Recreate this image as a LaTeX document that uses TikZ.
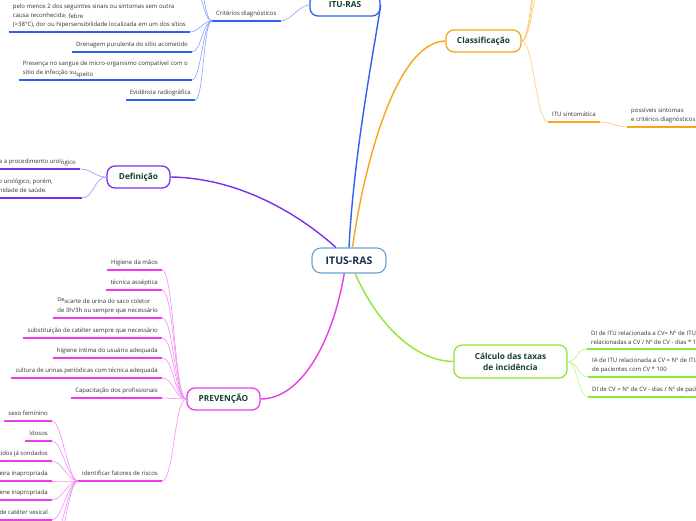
\documentclass[tikz,border=0pt]{standalone}
\usepackage{fontspec}
\setmainfont{Open Sans}
\usetikzlibrary{calc}
\definecolor{cblue}{HTML}{2F5FF5}
\definecolor{cbluel}{HTML}{86A2FF}
\definecolor{corange}{HTML}{F7A619}
\definecolor{corangel}{HTML}{FBC774}
\definecolor{cpurple}{HTML}{7B2FF0}
\definecolor{cpurplel}{HTML}{AE8CF6}
\definecolor{cmag}{HTML}{EA3CEA}
\definecolor{cmagl}{HTML}{F38CF3}
\definecolor{clime}{HTML}{8DE833}
\definecolor{climel}{HTML}{BDF287}
\definecolor{cborder}{HTML}{62A3DA}
\definecolor{nodetext}{HTML}{17402F}
\definecolor{centertext}{HTML}{1C2E4E}
\definecolor{txt}{HTML}{333333}
\begin{document}
\begin{tikzpicture}[x=1pt,y=-1pt,
  mainbox/.style={draw=#1, line width=1.3pt, rounded corners=8pt, fill=white, inner sep=0pt, align=center, text=nodetext, font=\fontsize{8.3}{11}\selectfont\bfseries},
  lbl/.style={inner xsep=4pt, inner ysep=0pt, text=txt, font=\fontsize{6}{9}\selectfont, align=left},
  uline/.style={draw=#1, line width=1.6pt},
  twig/.style={draw=#1, line width=0.6pt},
  branch/.style={draw=#1, line width=1.4pt},
  lc/.style={out=180,in=0,out distance=#1,in distance=#1},
  rc/.style={out=0,in=180,out distance=#1,in distance=#1}]
\useasboundingbox (0,0) rectangle (696,520);
\fill[white] (0,0) rectangle (696,520);

% ---------- main nodes ----------
\node[draw=cborder, line width=1.1pt, rounded corners=9pt, fill=white, minimum width=74pt, minimum height=25pt, inner sep=0pt, text=centertext, font=\fontsize{10.5}{12}\selectfont\bfseries] (itus) at (349,260.5) {ITUS-RAS};
\node[mainbox=cblue, minimum width=70pt, minimum height=22pt] (itura) at (345,5) {ITU-RAS};
\node[mainbox=corange, minimum width=75pt, minimum height=22pt] (class) at (483.5,41) {Classificação};
\node[mainbox=cpurple, minimum width=63pt, minimum height=22pt] (def) at (138.5,177) {Definição};
\node[mainbox=cmag, minimum width=73pt, minimum height=22pt] (prev) at (223.5,399) {PREVENÇÃO};
\node[mainbox=clime, minimum width=113pt, minimum height=33pt] (calcn) at (510.5,361.5) {Cálculo das taxas\\de incidência};

% ---------- main branches ----------
\draw[branch=cblue] (itus.north) .. controls (354,150) and (375,45) .. (itura.east);
\draw[branch=corange] (itus.75) .. controls (364,165) and (396,42) .. (class.west);
\draw[branch=cpurple] (itus.135) .. controls (300,215) and (240,178) .. (def.east);
\draw[branch=cmag] (itus.250) .. controls (332,345) and (300,399) .. (prev.east);
\draw[branch=clime] (itus.295) .. controls (378,325) and (415,361) .. (calcn.west);

% ---------- ITU-RAS ----------
\coordinate (y21) at (0,21);
\node[lbl, anchor=base west] (crit) at (212,15.7) {Critérios diagnósticos};
\coordinate (critL) at (crit.west |- y21);
\coordinate (critR) at (crit.east |- y21);
\draw[uline=cblue] (critL) -- (critR);
\draw[twig=cbluel] (itura.west) to[lc=10pt] (critR);

\coordinate (b1) at (190,32);
\node[lbl, anchor=south east] (tb1) at ($(b1)+(0,-3.8)$) {pelo menos 2 dos seguintes sinais ou sintomas sem outra\\causa reconhecida\raisebox{-1pt}[0pt][0pt]{: febre}\\(>38°C), dor ou hipersensibilidade localizada em um dos sítios};
\draw[uline=cblue] (tb1.west |- b1) -- (b1);
\coordinate (b2) at (192,52);
\node[lbl, anchor=base east] (tb2) at ($(b2)+(0,-5.3)$) {Drenagem purulenta do sítio acometido};
\draw[uline=cblue] (tb2.west |- b2) -- (b2);
\coordinate (b3) at (192,80);
\node[lbl, anchor=south east] (tb3) at ($(b3)+(0,-3.8)$) {Presença no sangue de micro-organismo compatível com o\\sítio de infecção su\raisebox{-1.5pt}[0pt][0pt]{speito}};
\draw[uline=cblue] (tb3.west |- b3) -- (b3);
\coordinate (b4) at (195,100);
\node[lbl, anchor=base east] (tb4) at ($(b4)+(0,-5.3)$) {Evidência radiográfica};
\draw[uline=cblue] (tb4.west |- b4) -- (b4);
\coordinate (bx1) at (192,-18);
\coordinate (bx2) at (192,-45);
\foreach \t in {b1,b2,b3,b4,bx1,bx2} \draw[twig=cbluel] (critL) to[lc=9pt] (\t);

% ---------- Classificação ----------
\coordinate (isL) at (548,122);
\node[lbl, anchor=base west] (its) at ($(isL)+(0,-5.3)$) {ITU sintomática};
\coordinate (isR) at (its.east |- isL);
\draw[uline=corange] (isL) -- (isR);
\coordinate (psL) at (627,127);
\coordinate (psR) at (700,127);
\node[lbl, anchor=south west] (ps) at ($(psL)+(0,-3.8)$) {possíveis sintomas\\e critérios diagnósticos};
\draw[uline=corange] (psL) -- (psR);
\draw[twig=corangel] (isR) to[rc=10pt] (psL);
\coordinate (cx1) at (548,-45);
\coordinate (cx2) at (548,-75);
\coordinate (cx3) at (548,-105);
\foreach \t in {isL,cx1,cx2,cx3} \draw[twig=corangel] (class.east) to[rc=12pt] (\t);

% ---------- Definição ----------
\coordinate (dA) at (80,169);
\coordinate (dA0) at (-5,169);
\node[lbl, anchor=base east] (tdA) at ($(dA)+(0,-5.3)$) {a a procedimento urol\raisebox{-1pt}[0pt][0pt]{ógico}};
\draw[uline=cpurple] (dA0) -- (dA);
\coordinate (dB) at (82,198);
\coordinate (dB0) at (-5,198);
\node[lbl, anchor=base east] (tdB1) at (57,183.6) {o urológico, porém,};
\node[lbl, anchor=base east] (tdB2) at (51,192.6) {nidade de saúde.};
\draw[uline=cpurple] (dB0) -- (dB);
\draw[twig=cpurplel] (def.west) to[lc=12pt] (dA);
\draw[twig=cpurplel] (def.west) to[lc=12pt] (dB);

% ---------- PREVENÇÃO ----------
\coordinate (p1) at (162,270);
\node[lbl, anchor=base east] (tp1) at ($(p1)+(0,-5.3)$) {Higiene da mãos};
\coordinate (p2) at (162,290);
\node[lbl, anchor=base east] (tp2) at ($(p2)+(0,-5.3)$) {técnica asséptica};
\coordinate (p3) at (162,318);
\node[lbl, anchor=south east] (tp3) at ($(p3)+(0,-3.8)$) {\raisebox{2pt}{\fontsize{5.4}{6}\selectfont De}scarte de urina do saco coletor\\de 3h/3h ou sempre que necessário};
\coordinate (p4) at (162,338);
\node[lbl, anchor=base east] (tp4) at ($(p4)+(0,-5.3)$) {substituição de catéter sempre que necessário};
\coordinate (p5) at (162,358);
\node[lbl, anchor=base east] (tp5) at ($(p5)+(0,-5.3)$) {higiene íntima do usuário adequada};
\coordinate (p6) at (162,378);
\node[lbl, anchor=base east] (tp6) at ($(p6)+(0,-5.3)$) {cultura de urinas periódicas com técnica adequada};
\coordinate (p7) at (162,398);
\node[lbl, anchor=base east] (tp7) at ($(p7)+(0,-5.3)$) {Capacitação dos profissionais};
\coordinate (p8) at (162,481);
\node[lbl, anchor=base east] (tp8) at ($(p8)+(0,-5.3)$) {identificar fatores de riscos};
\foreach \i in {1,...,8} {
  \draw[uline=cmag] (tp\i.west |- p\i) -- (p\i);
  \draw[twig=cmagl] (prev.west) to[lc=12pt] (p\i);
}

% ---------- fatores de riscos ----------
\coordinate (idL) at (tp8.west |- p8);
\coordinate (r1) at (52,421);
\node[lbl, anchor=base east] (tr1) at ($(r1)+(0,-5.3)$) {sexo feminino};
\coordinate (r2) at (52,441);
\node[lbl, anchor=base east] (tr2) at ($(r2)+(0,-5.3)$) {Idosos};
\coordinate (r3) at (52,461);
\node[lbl, anchor=base east] (tr3) at ($(r3)+(0,-5.3)$) {tidos já sondados};
\coordinate (r4) at (52,481);
\node[lbl, anchor=base east] (tr4) at ($(r4)+(0,-5.3)$) {eira inapropriada};
\coordinate (r5) at (52,500);
\node[lbl, anchor=base east] (tr5) at ($(r5)+(0,-5.3)$) {ene inapropriada};
\coordinate (r6) at (52,520);
\node[lbl, anchor=base east] (tr6) at ($(r6)+(0,-5.3)$) {de catéter vesical};
\foreach \i in {1,...,6} {
  \draw[uline=cmag] (tr\i.west |- r\i) -- (r\i);
}
\coordinate (r7) at (52,540);
\coordinate (r8) at (52,560);
\foreach \i in {1,...,8} \draw[twig=cmagl] (idL) to[lc=10pt] (r\i);

% ---------- Cálculo ----------
\coordinate (k1) at (587,349);
\coordinate (k1e) at (700,349);
\node[lbl, anchor=south west] (tk1) at ($(k1)+(0,-3.8)$) {DI de ITU relacionada a CV= Nº de ITU\\relacionadas a CV / Nº de CV - dias * 1000};
\coordinate (k2) at (588,377);
\coordinate (k2e) at (700,377);
\node[lbl, anchor=south west] (tk2) at ($(k2)+(0,-3.8)$) {IA de ITU relacionada a CV = Nº de ITU\\de pacientes com CV * 100};
\coordinate (k3) at (588,397);
\coordinate (k3e) at (700,397);
\node[lbl, anchor=base west] (tk3) at ($(k3)+(0,-5.3)$) {DI de CV = Nº de CV - dias / Nº de pacientes};
\foreach \i in {1,2,3} {
  \draw[uline=clime] (k\i) -- (k\i e);
  \draw[twig=climel] (calcn.east) to[rc=10pt] (k\i);
}
\end{tikzpicture}
\end{document}
